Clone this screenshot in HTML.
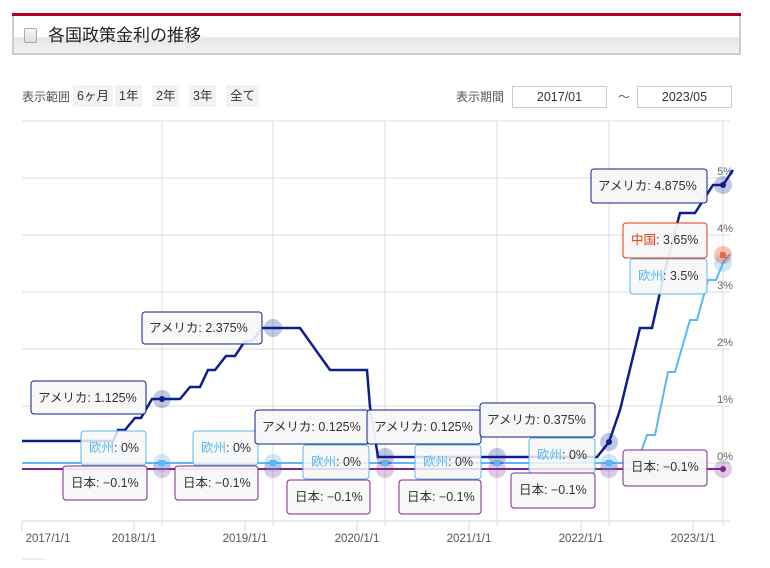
<!DOCTYPE html>
<html><head><meta charset="utf-8"><style>
body{margin:0;width:770px;height:568px;background:#fff;font-family:"Liberation Sans","Noto Sans CJK JP",sans-serif;overflow:hidden;position:relative}
.hdr{position:absolute;left:12px;top:13px;width:729px;height:3px;background:#b0001e}
.box{position:absolute;left:12px;top:16px;width:725px;height:37px;border:2px solid #ccc;border-top:none;background:linear-gradient(#fff 0,#fff 55%,#e6e6e6 60%,#f4f4f4 100%)}
.cb{position:absolute;left:10px;top:12px;width:11px;height:13px;border:1px solid #aaa;border-radius:2px;background:linear-gradient(#fafafa,#ddd)}
.ttl{position:absolute;left:34px;top:5px;font-size:17px;color:#222}
.ctl{position:absolute;top:88px;font-size:12px;color:#555}
.btn{position:absolute;top:85px;height:22px;line-height:22px;font-size:12.5px;color:#333;background:#f3f3f3;padding:0 4px}
.inp{position:absolute;top:86px;width:93px;height:20px;border:1px solid #ccc;font-size:12.5px;color:#333;text-align:center;line-height:20px}
</style></head><body>
<div class="hdr"></div>
<div class="box"><div class="cb"></div><div class="ttl">各国政策金利の推移</div></div>
<div class="ctl" style="left:22px">表示範囲</div>
<div class="btn" style="left:73px">6ヶ月</div>
<div class="btn" style="left:115px">1年</div>
<div class="btn" style="left:152px">2年</div>
<div class="btn" style="left:189px">3年</div>
<div class="btn" style="left:226px">全て</div>
<div class="ctl" style="left:456px">表示期間</div>
<div class="inp" style="left:512px">2017/01</div>
<div class="ctl" style="left:618px">～</div>
<div class="inp" style="left:637px">2023/05</div>
<svg width="770" height="568" style="position:absolute;left:0;top:0" font-family="Liberation Sans, Noto Sans CJK JP, sans-serif">
<g stroke="#ddd" stroke-width="1">
<line x1="22" y1="121" x2="730" y2="121"/><line x1="22" y1="178" x2="730" y2="178"/><line x1="22" y1="235" x2="730" y2="235"/><line x1="22" y1="292" x2="730" y2="292"/><line x1="22" y1="349" x2="730" y2="349"/><line x1="22" y1="406" x2="730" y2="406"/><line x1="22" y1="463" x2="730" y2="463"/>
<line x1="162" y1="121" x2="162" y2="526"/><line x1="273" y1="121" x2="273" y2="526"/><line x1="385" y1="121" x2="385" y2="526"/><line x1="497" y1="121" x2="497" y2="526"/><line x1="609" y1="121" x2="609" y2="526"/><line x1="723" y1="121" x2="723" y2="526"/>
</g>
<line x1="22" y1="521" x2="730" y2="521" stroke="#ccd6eb"/>
<g stroke="#ccd6eb"><line x1="22" y1="521" x2="22" y2="531"/><line x1="134" y1="521" x2="134" y2="531"/><line x1="245" y1="521" x2="245" y2="531"/><line x1="357" y1="521" x2="357" y2="531"/><line x1="469" y1="521" x2="469" y2="531"/><line x1="581" y1="521" x2="581" y2="531"/><line x1="693" y1="521" x2="693" y2="531"/></g>
<g font-size="11.5" fill="#555" text-anchor="middle"><text x="48" y="542">2017/1/1</text><text x="134" y="542">2018/1/1</text><text x="245" y="542">2019/1/1</text><text x="357" y="542">2020/1/1</text><text x="469" y="542">2021/1/1</text><text x="581" y="542">2022/1/1</text><text x="693" y="542">2023/1/1</text></g>
<g font-size="11" fill="#666" text-anchor="end"><text x="733" y="175">5%</text><text x="733" y="232">4%</text><text x="733" y="289">3%</text><text x="733" y="346">2%</text><text x="733" y="403">1%</text><text x="733" y="460">0%</text></g>
<line x1="22" y1="559" x2="45" y2="559" stroke="#ddd"/>
<polyline fill="none" stroke="#7b2a8c" stroke-width="2" points="22,469 723,469"/>
<polyline fill="none" stroke="#5bb8f0" stroke-width="2" points="22,463 637,463 647,435 655,435 668,372 675,372 690,320 697,320 708,280 716,280 723,263 730,254"/>
<polyline fill="none" stroke="#0d1f8c" stroke-width="2.5" points="22,441 113,441 118,430 125,430 135,418 141,418 152,399 180,399 190,387 200,387 208,370 215,370 226,356 235,356 245,341 252,341 262,328 300,328 330,370 367,370 370,407 378,457 597,457 609,442 620,410 640,328 652,328 665,270 680,213 695,213 713,185 723,185 733,170"/>
<circle cx="162" cy="399" r="9" fill="#0d1f8c" opacity=".25"/><circle cx="162" cy="399" r="3" fill="#0d1f8c"/>
<circle cx="273" cy="328" r="9" fill="#0d1f8c" opacity=".25"/>
<circle cx="385" cy="457" r="9" fill="#0d1f8c" opacity=".25"/><circle cx="497" cy="457" r="9" fill="#0d1f8c" opacity=".25"/>
<circle cx="609" cy="442" r="9" fill="#0d1f8c" opacity=".25"/><circle cx="609" cy="442" r="3" fill="#0d1f8c"/>
<circle cx="723" cy="185" r="9" fill="#0d1f8c" opacity=".25"/><circle cx="723" cy="185" r="3" fill="#0d1f8c"/>
<g fill="#7b2a8c"><circle cx="162" cy="469" r="9" opacity=".25"/><circle cx="273" cy="469" r="9" opacity=".25"/><circle cx="385" cy="469" r="9" opacity=".25"/><circle cx="497" cy="469" r="9" opacity=".25"/><circle cx="609" cy="469" r="9" opacity=".25"/><circle cx="723" cy="469" r="9" opacity=".25"/><circle cx="723" cy="469" r="3"/></g>
<g fill="#5bb8f0"><circle cx="162" cy="463" r="9" opacity=".3"/><rect x="159" y="460" width="6" height="6"/><circle cx="273" cy="463" r="9" opacity=".3"/><rect x="270" y="460" width="6" height="6"/><rect x="382" y="460" width="6" height="6"/><rect x="494" y="460" width="6" height="6"/><circle cx="609" cy="463" r="9" opacity=".3"/><rect x="606" y="460" width="6" height="6"/><circle cx="723" cy="263" r="9" opacity=".3"/></g>
<circle cx="723" cy="255" r="9" fill="#e8380d" opacity=".3"/><rect x="720" y="252" width="6" height="6" fill="#e8380d" opacity=".6"/>
<g font-size="12.5" fill="#333" stroke-width="1">
<g><rect x="31" y="381" width="115" height="33" rx="3" fill="#f7f7f7" fill-opacity=".9" stroke="#0d1f8c"/><text x="38" y="402">アメリカ: 1.125%</text></g>
<g><rect x="81" y="431" width="65" height="34" rx="3" fill="#f7f7f7" fill-opacity=".85" stroke="#5bb8f0"/><text x="89" y="452"><tspan fill="#5bb8f0">欧州</tspan>: 0%</text></g>
<g><rect x="63" y="466" width="84" height="34" rx="3" fill="#f7f7f7" fill-opacity=".9" stroke="#7b2a8c"/><text x="71" y="487">日本: −0.1%</text></g>
<g><rect x="142" y="312" width="120" height="32" rx="3" fill="#f7f7f7" fill-opacity=".9" stroke="#0d1f8c"/><text x="149" y="332">アメリカ: 2.375%</text></g>
<g><rect x="193" y="431" width="65" height="34" rx="3" fill="#f7f7f7" fill-opacity=".85" stroke="#5bb8f0"/><text x="201" y="452"><tspan fill="#5bb8f0">欧州</tspan>: 0%</text></g>
<g><rect x="175" y="466" width="83" height="34" rx="3" fill="#f7f7f7" fill-opacity=".9" stroke="#7b2a8c"/><text x="183" y="487">日本: −0.1%</text></g>
<g><rect x="303" y="445" width="66" height="34" rx="3" fill="#f7f7f7" fill-opacity=".85" stroke="#5bb8f0"/><text x="311" y="466"><tspan fill="#5bb8f0">欧州</tspan>: 0%</text></g>
<g><rect x="287" y="480" width="83" height="34" rx="3" fill="#f7f7f7" fill-opacity=".9" stroke="#7b2a8c"/><text x="295" y="501">日本: −0.1%</text></g>
<g><rect x="255" y="410" width="114" height="34" rx="3" fill="#f7f7f7" fill-opacity=".95" stroke="#0d1f8c"/><text x="262" y="431">アメリカ: 0.125%</text></g>
<g><rect x="415" y="445" width="66" height="34" rx="3" fill="#f7f7f7" fill-opacity=".85" stroke="#5bb8f0"/><text x="423" y="466"><tspan fill="#5bb8f0">欧州</tspan>: 0%</text></g>
<g><rect x="399" y="480" width="82" height="34" rx="3" fill="#f7f7f7" fill-opacity=".9" stroke="#7b2a8c"/><text x="407" y="501">日本: −0.1%</text></g>
<g><rect x="367" y="410" width="114" height="34" rx="3" fill="#f7f7f7" fill-opacity=".95" stroke="#0d1f8c"/><text x="374" y="431">アメリカ: 0.125%</text></g>
<g><rect x="529" y="438" width="66" height="35" rx="3" fill="#f7f7f7" fill-opacity=".85" stroke="#5bb8f0"/><text x="537" y="459"><tspan fill="#5bb8f0">欧州</tspan>: 0%</text></g>
<g><rect x="511" y="473" width="84" height="35" rx="3" fill="#f7f7f7" fill-opacity=".9" stroke="#7b2a8c"/><text x="519" y="494">日本: −0.1%</text></g>
<g><rect x="480" y="403" width="115" height="34" rx="3" fill="#f7f7f7" fill-opacity=".95" stroke="#0d1f8c"/><text x="487" y="424">アメリカ: 0.375%</text></g>
<g><rect x="591" y="169" width="116" height="34" rx="3" fill="#f7f7f7" fill-opacity=".95" stroke="#0d1f8c"/><text x="598" y="190">アメリカ: 4.875%</text></g>
<g><rect x="630" y="259" width="77" height="35" rx="3" fill="#f7f7f7" fill-opacity=".9" stroke="#5bb8f0"/><text x="638" y="280"><tspan fill="#5bb8f0">欧州</tspan>: 3.5%</text></g>
<g><rect x="623" y="223" width="84" height="35" rx="3" fill="#f7f7f7" fill-opacity=".95" stroke="#e8380d"/><text x="631" y="244"><tspan fill="#e8380d">中国</tspan>: 3.65%</text></g>
<g><rect x="623" y="450" width="84" height="36" rx="3" fill="#f7f7f7" fill-opacity=".95" stroke="#7b2a8c"/><text x="631" y="471">日本: −0.1%</text></g>
</g>
</svg>
</body></html>
